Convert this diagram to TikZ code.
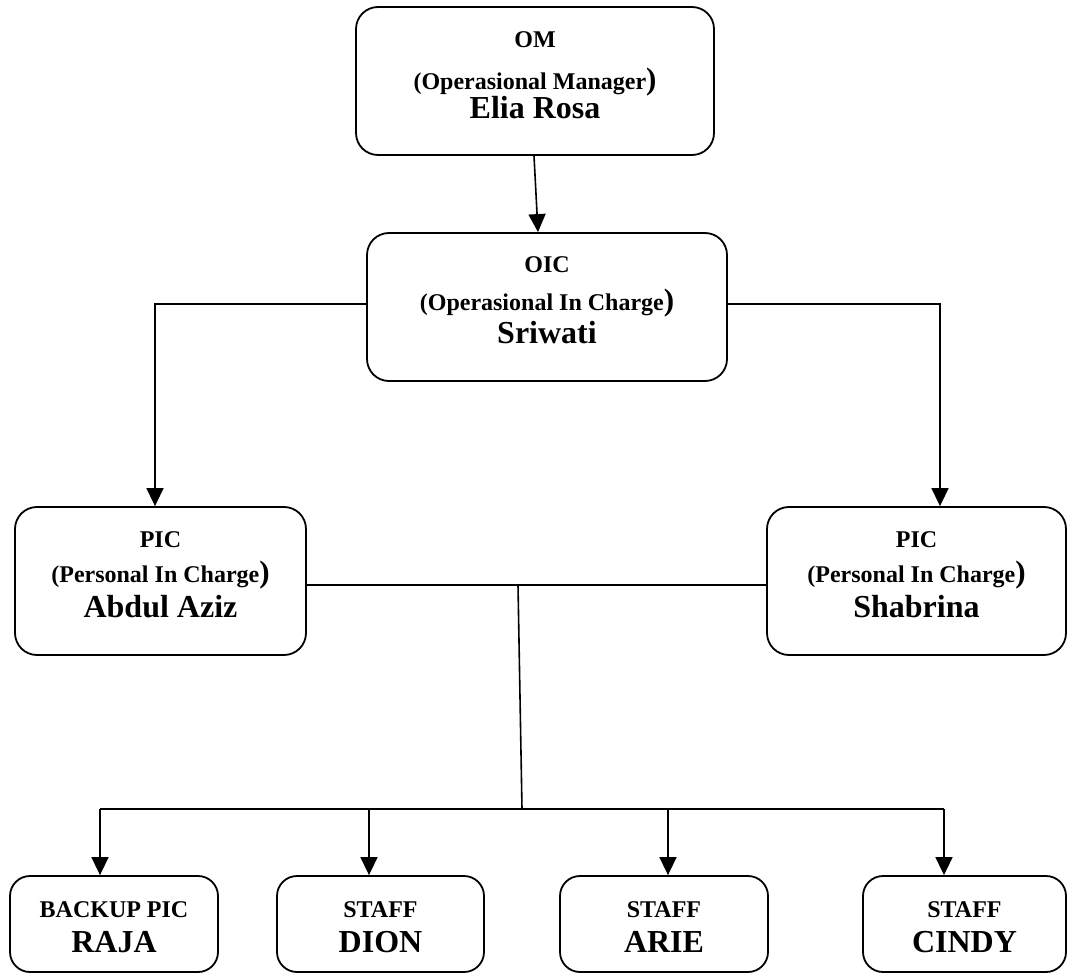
\documentclass[tikz,border=0pt]{standalone}
\usepackage{fontspec}
\setmainfont{Liberation Serif}
\usetikzlibrary{arrows.meta,calc}
\tikzset{
  orgbox/.style={draw, line width=1.8pt, rounded corners=22pt, inner sep=0pt, minimum height=148pt},
  lowbox/.style={draw, line width=1.8pt, rounded corners=20pt, inner sep=0pt, minimum height=96pt},
  small/.style={anchor=base, inner sep=0pt, font=\fontsize{24}{24}\selectfont\bfseries},
  big/.style={anchor=base, inner sep=0pt, font=\fontsize{32}{32}\selectfont\bfseries},
  link/.style={line width=1.6pt},
  arr/.style={link, -{Triangle[width=17pt,length=18pt]}},
}
\newcommand{\bigparen}{{\fontsize{31}{31}\selectfont)}}
\begin{document}
\begin{tikzpicture}[x=1pt,y=-1pt]
\useasboundingbox (0,0) rectangle (1068,973);
% boxes
\node[orgbox, minimum width=358pt] (om) at (535,81) {};
\node[orgbox, minimum width=360pt] (oic) at (547,307) {};
\node[orgbox, minimum width=291pt] (picl) at (160.5,581) {};
\node[orgbox, minimum width=299pt] (picr) at (916.5,581) {};
\node[lowbox, minimum width=208pt] (raja) at (114,924) {};
\node[lowbox, minimum width=207pt] (dion) at (380.5,924) {};
\node[lowbox, minimum width=208pt] (arie) at (664,924) {};
\node[lowbox, minimum width=203pt] (cindy) at (964.5,924) {};
% texts
\node[small] (omA) at ([yshift=-41pt]om.north) {OM};
\node[small] (omB) at ([yshift=-83pt]om.north) {(Operasional Manager\bigparen};
\node[big]   (omC) at ([yshift=-112pt]om.north) {Elia Rosa};
\node[small] (oicA) at ([yshift=-40pt]oic.north) {OIC};
\node[small] (oicB) at ([yshift=-78pt]oic.north) {(Operasional In Charge\bigparen};
\node[big]   (oicC) at ([yshift=-111pt]oic.north) {Sriwati};
\node[small] (piclA) at ([yshift=-41pt]picl.north) {PIC};
\node[small] (piclB) at ([yshift=-76pt]picl.north) {(Personal In Charge\bigparen};
\node[big]   (piclC) at ([yshift=-111pt]picl.north) {Abdul Aziz};
\node[small] (picrA) at ([yshift=-41pt]picr.north) {PIC};
\node[small] (picrB) at ([yshift=-76pt]picr.north) {(Personal In Charge\bigparen};
\node[big]   (picrC) at ([yshift=-111pt]picr.north) {Shabrina};
\node[small] (rajaA) at ([yshift=-42pt]raja.north) {BACKUP PIC};
\node[big]   (rajaB) at ([yshift=-77pt]raja.north) {RAJA};
\node[small] (dionA) at ([yshift=-42pt]dion.north) {STAFF};
\node[big]   (dionB) at ([yshift=-77pt]dion.north) {DION};
\node[small] (arieA) at ([yshift=-42pt]arie.north) {STAFF};
\node[big]   (arieB) at ([yshift=-77pt]arie.north) {ARIE};
\node[small] (cindyA) at ([yshift=-42pt]cindy.north) {STAFF};
\node[big]   (cindyB) at ([yshift=-77pt]cindy.north) {CINDY};
% connectors
\draw[arr] ([xshift=-1pt]om.south) -- ([xshift=-9pt]oic.north);
\draw[arr] ([yshift=3pt]oic.west) -| ([xshift=-5.5pt]picl.north);
\draw[arr] ([yshift=3pt]oic.east) -| ([xshift=23.5pt]picr.north);
\draw[link] ([yshift=-4pt]picl.east) -- ([yshift=-4pt]picr.west);
\coordinate (jtop) at (518,585);
\coordinate (jbot) at (522,809);
\draw[link] (jtop) -- (jbot);
\coordinate (hl) at (100,809);
\coordinate (hr) at (944,809);
\draw[link] (hl) -- (hr);
\draw[arr] (hl) -- ([xshift=-14pt]raja.north);
\draw[arr] (369,809) -- ([xshift=-11.5pt]dion.north);
\draw[arr] (668,809) -- ([xshift=4pt]arie.north);
\draw[arr] (hr) -- ([xshift=-20.5pt]cindy.north);
\end{tikzpicture}
\end{document}
